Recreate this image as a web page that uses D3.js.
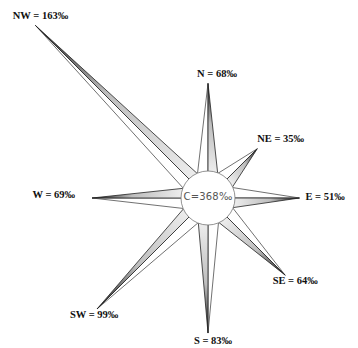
<!DOCTYPE html>
<html>
<head>
<meta charset="utf-8">
<script src="https://cdn.jsdelivr.net/npm/d3@7/dist/d3.min.js"></script>
<style>
  body { margin: 0; background: #fff; }
</style>
</head>
<body>
<script>
var width = 358, height = 348;

// wind directions and their frequencies (per mille)
var directions = ["N", "NE", "E", "SE", "S", "SW", "W", "NW"];
var values = [68, 35, 51, 64, 83, 99, 69, 163];
var calmLabel = "C";
var calmValue = 368;

var cx = 208, cy = 198, hubR = 27;

// label placement relative to the tip of each arm
var labelPlace = {
  N:  {anchor: "middle", dx: 9,   dy: -6},
  NE: {anchor: "start",  dx: 0,   dy: -7},
  E:  {anchor: "start",  dx: 6,   dy: 2},
  SE: {anchor: "middle", dx: 10,  dy: 9},
  S:  {anchor: "middle", dx: 5,   dy: 11},
  SW: {anchor: "middle", dx: -3,  dy: 9},
  W:  {anchor: "end",    dx: -17, dy: 0},
  NW: {anchor: "middle", dx: 5,   dy: -6}
};

var len = d3.scaleLinear().domain([0, d3.max(values)]).range([22, 244]);
var ang = d3.scalePoint().domain(directions).range([0, 315]);

var svg = d3.select("body").append("svg").attr("width", width).attr("height", height);
var defs = svg.append("defs");
var g = svg.append("g").attr("transform", "translate(" + cx + "," + cy + ")");

function pt(a, r) {
  var t = a * Math.PI / 180;
  return [r * Math.sin(t), -r * Math.cos(t)];
}

var data = directions.map(function(d, i) {
  var a = ang(d), L = len(values[i]);
  return {dir: d, value: values[i], a: a, L: L, tip: pt(a, L)};
});

// one gradient per arm, light near the hub and dark at the tip
data.forEach(function(d) {
  var grad = defs.append("linearGradient")
    .attr("id", "grad" + d.dir)
    .attr("gradientUnits", "userSpaceOnUse")
    .attr("x1", pt(d.a, hubR)[0]).attr("y1", pt(d.a, hubR)[1])
    .attr("x2", d.tip[0]).attr("y2", d.tip[1]);
  grad.append("stop").attr("offset", "0%").attr("stop-color", "#ececec");
  grad.append("stop").attr("offset", "55%").attr("stop-color", "#bdbdbd");
  grad.append("stop").attr("offset", "100%").attr("stop-color", "#1a1a1a");
});

var arms = g.selectAll("g.arm").data(data).enter().append("g").attr("class", "arm");

// white half (counter-clockwise side)
arms.append("path")
  .attr("fill", "#fff")
  .attr("stroke", "#333")
  .attr("stroke-width", 0.7)
  .attr("stroke-linejoin", "round")
  .attr("d", function(d) {
    var b0 = pt(d.a, hubR - 3), b1 = pt(d.a - 24, hubR - 1);
    return "M" + b0 + "L" + b1 + "L" + d.tip + "Z";
  });

// shaded half (clockwise side)
arms.append("path")
  .attr("fill", function(d) { return "url(#grad" + d.dir + ")"; })
  .attr("stroke", "#222")
  .attr("stroke-width", 0.8)
  .attr("stroke-linejoin", "round")
  .attr("d", function(d) {
    var b0 = pt(d.a, hubR - 3), b1 = pt(d.a + 22, hubR - 1);
    return "M" + b0 + "L" + b1 + "L" + d.tip + "Z";
  });

// calm circle in the middle
g.append("circle")
  .attr("r", hubR)
  .attr("fill", "#fff")
  .attr("stroke", "#777")
  .attr("stroke-width", 0.8);

g.append("text")
  .attr("x", 0).attr("y", -1)
  .attr("text-anchor", "middle")
  .attr("dominant-baseline", "middle")
  .attr("font-family", "DejaVu Sans, sans-serif")
  .attr("font-size", 10)
  .attr("letter-spacing", 0.2)
  .attr("fill", "#555")
  .text(calmLabel + "=" + calmValue + "\u2030");

// labels at the tips
g.selectAll("text.lab").data(data).enter().append("text")
  .attr("class", "lab")
  .attr("x", function(d) { return d.tip[0] + labelPlace[d.dir].dx; })
  .attr("y", function(d) { return d.tip[1] + labelPlace[d.dir].dy; })
  .attr("text-anchor", function(d) { return labelPlace[d.dir].anchor; })
  .attr("font-family", "Liberation Serif, Times New Roman, serif")
  .attr("font-weight", "bold")
  .attr("font-size", 10.5)
  .attr("fill", "#111")
  .text(function(d) { return d.dir + " = " + d.value + "\u2030"; });
</script>
</body>
</html>
